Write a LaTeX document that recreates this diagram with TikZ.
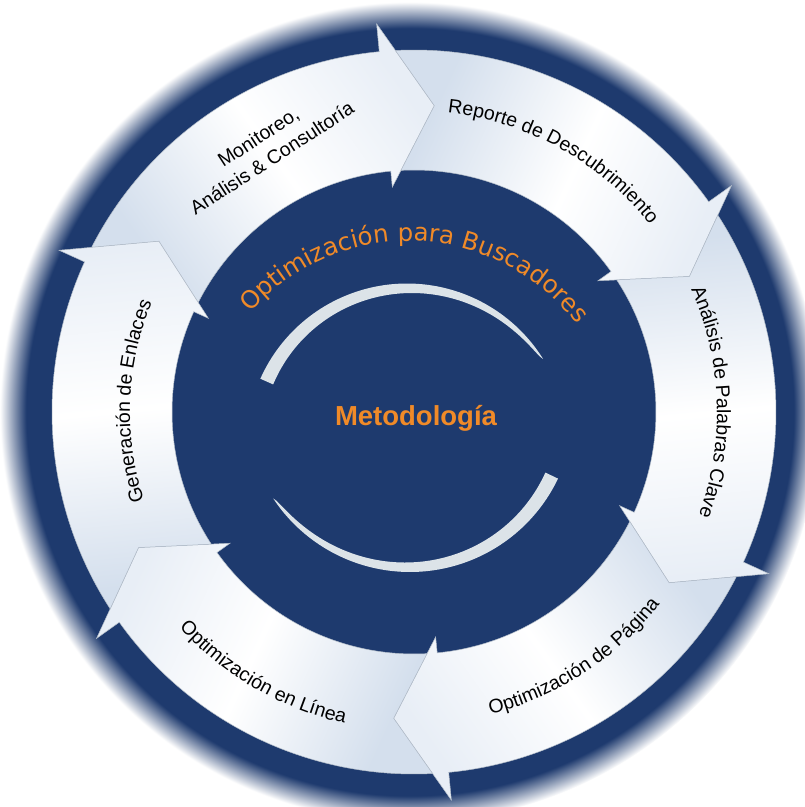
\documentclass[tikz,border=0pt]{standalone}
\usepackage{fontspec}
\usetikzlibrary{decorations.text}
\newfontfamily\lblfam{Liberation Sans}
\newfontfamily\orfam{DejaVu Sans}
\definecolor{navy}{RGB}{30,58,110}
\definecolor{orangeC}{RGB}{240,138,40}
\definecolor{segA}{RGB}{212,223,237}
\definecolor{segB}{RGB}{232,238,246}
\definecolor{edgegrey}{RGB}{178,188,200}
\definecolor{arcgrey}{RGB}{220,227,232}
\pgfdeclareradialshading{navyblur}{\pgfpoint{0bp}{0bp}}{color(0bp)=(navy); color(23.4bp)=(navy); color(25bp)=(white); color(50bp)=(white)}
\pgfdeclarehorizontalshading{segshade}{100bp}{color(0bp)=(segA); color(27bp)=(segA); color(52bp)=(white); color(75bp)=(segB); color(100bp)=(segB)}
\newcommand\lblfont{\lblfam\fontsize{19.5}{22}\selectfont}
\newcommand\monfont{\lblfam\fontsize{19.5}{25}\selectfont}
\newcommand\orfont{\orfam\fontsize{24.5}{26}\selectfont}
\newcommand\mfont{\lblfam\bfseries\fontsize{27.5}{30}\selectfont}
\newcommand\segpath[2]{(#1-2.56:362) arc[start angle=#1-2.56, end angle=#2, radius=362] -- (#2:390) -- (#2-9.3:307) -- (#2:226) -- (#2:242) arc[start angle=#2, end angle=#1-2.41, radius=242] -- (#1-9.3:307) -- cycle}
\tikzset{
  segment/.style={shading=segshade, draw=edgegrey, line width=0.5pt, line join=miter},
  seglabel/.style={decorate, decoration={text along path, text align=center, text={|\lblfont|#1}}},
}
\begin{document}
\begin{tikzpicture}[x=1pt,y=1pt]
\useasboundingbox (-414,-395) rectangle (391,412);
\fill[white] (-414,-395) rectangle (391,412);
% navy disk with soft edge
\shade[shading=navyblur] (-4,0) circle (410);
% six arrow segments
\foreach \a/\b/\ang in {155.5/95.5/35.5, 95.5/35.5/-24.5, 35.5/-24.5/-84.5, -24.5/-84.5/-144.5, -84.5/-144.5/-204.5, -144.5/-204.5/-264.5}
  \shadedraw[segment, shading angle=\ang] \segpath{\a}{\b};
% segment labels
\node[font=\monfont, rotate=33, align=center] (monitoreo) at (-149,264.5) {Monitoreo,\\Análisis \& Consultoría};
\path[seglabel={Reporte de Descubrimiento}] (101:301) arc[start angle=101, end angle=21, radius=301];
\path[seglabel={Análisis de Palabras Clave}] (42:303) arc[start angle=42, end angle=-38, radius=303];
\path[seglabel={Optimización de Página}] (-96.9:312) arc[start angle=-96.9, end angle=-16.9, radius=312];
\path[seglabel={Optimización en Línea}] (200:319) arc[start angle=200, end angle=280, radius=319];
\path[seglabel={Generación de Enlaces}] (217.8:284) arc[start angle=217.8, end angle=137.8, radius=284];
% inner grey crescents
\fill[arcgrey] plot[domain=32:156, samples=90] ({-7+160.5*cos(\x)},{-32+160.5*sin(\x)})
  -- plot[domain=156:32, samples=90] ({-7+(160.5-14*sqrt(max(0,(\x-32)/124)))*cos(\x)},{-32+(160.5-14*sqrt(max(0,(\x-32)/124)))*sin(\x)}) -- cycle;
\fill[arcgrey] plot[domain=-146.5:-25.5, samples=90] ({-4+164*cos(\x)},{4+164*sin(\x)})
  -- plot[domain=-25.5:-146.5, samples=90] ({-4+(164-14*sqrt(max(0,(\x+146.5)/121)))*cos(\x)},{4+(164-14*sqrt(max(0,(\x+146.5)/121)))*sin(\x)}) -- cycle;
% orange curved title
\begin{scope}[shift={(-5,-40)}]
\path[decorate, decoration={text along path, text align=center, text={|\orfont\color{orangeC}|Optimización para Buscadores}}] (160:211) arc[start angle=160, end angle=16, radius=211];
\end{scope}
\node[font=\mfont, text=orangeC, anchor=base] (metodo) at (2,-13.5) {Metodología};
\end{tikzpicture}
\end{document}
